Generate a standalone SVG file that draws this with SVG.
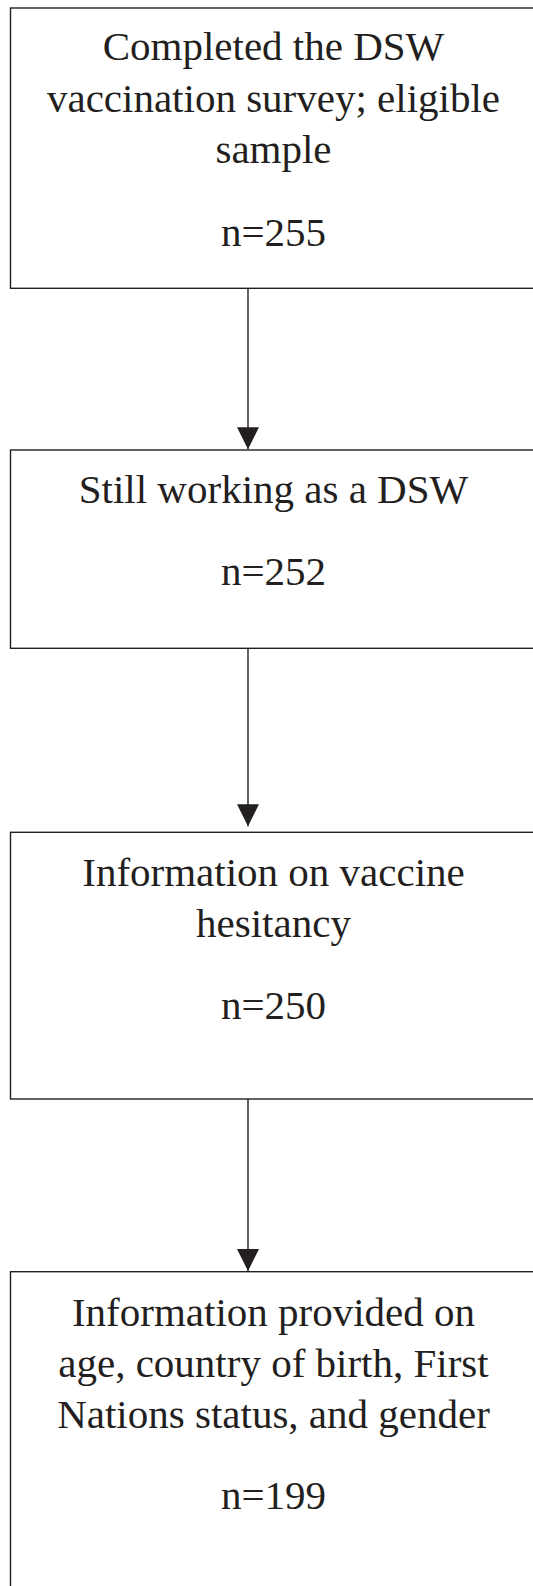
<svg xmlns="http://www.w3.org/2000/svg" width="533" height="1586" viewBox="0 0 533 1586">
  <style>
    .box { fill: #ffffff; stroke: #231f20; stroke-width: 1.4; }
    .lbl { font-family: 'Liberation Serif', 'DejaVu Serif', serif; font-size: 41px; fill: #231f20; text-anchor: middle; }
    .conn { stroke: #231f20; stroke-width: 1.4; fill: none; }
  </style>
  <defs>
    <marker id="arrow" viewBox="0 0 22 22" refX="22" refY="11" markerWidth="22" markerHeight="22" markerUnits="userSpaceOnUse" orient="auto">
      <path d="M0,0 L22,11 L0,22 Z" fill="#231f20"/>
    </marker>
  </defs>
  <rect width="533" height="1586" fill="#ffffff"/>

  <g id="node-completed" font-family="Liberation Serif, DejaVu Serif, serif">
    <rect class="box" x="10.5" y="8" width="540" height="280.3"/>
    <text class="lbl" x="273.5" y="59.5">Completed the DSW</text>
    <text class="lbl" x="273.5" y="111.5">vaccination survey; eligible</text>
    <text class="lbl" x="273.5" y="163">sample</text>
    <text class="lbl" x="273.5" y="246">n=255</text>
  </g>

  <g id="node-still-working" font-family="Liberation Serif, DejaVu Serif, serif">
    <rect class="box" x="10.5" y="450" width="540" height="198.3"/>
    <text class="lbl" x="273.5" y="502.7">Still working as a DSW</text>
    <text class="lbl" x="273.5" y="585">n=252</text>
  </g>

  <g id="node-hesitancy" font-family="Liberation Serif, DejaVu Serif, serif">
    <rect class="box" x="10.5" y="832.3" width="540" height="266.7"/>
    <text class="lbl" x="273.5" y="886">Information on vaccine</text>
    <text class="lbl" x="273.5" y="937.3">hesitancy</text>
    <text class="lbl" x="273.5" y="1019.3">n=250</text>
  </g>

  <g id="node-demographics" font-family="Liberation Serif, DejaVu Serif, serif">
    <rect class="box" x="10.5" y="1271.7" width="540" height="340"/>
    <text class="lbl" x="273.5" y="1326">Information provided on</text>
    <text class="lbl" x="273.5" y="1376.7">age, country of birth, First</text>
    <text class="lbl" x="273.5" y="1428.3">Nations status, and gender</text>
    <text class="lbl" x="273.5" y="1509.3">n=199</text>
  </g>

  <g id="connectors">
    <line class="conn" x1="248" y1="288.3" x2="248" y2="449.3" marker-end="url(#arrow)"/>
    <line class="conn" x1="248" y1="648.3" x2="248" y2="826.3" marker-end="url(#arrow)"/>
    <line class="conn" x1="248" y1="1099" x2="248" y2="1271" marker-end="url(#arrow)"/>
  </g>
</svg>
